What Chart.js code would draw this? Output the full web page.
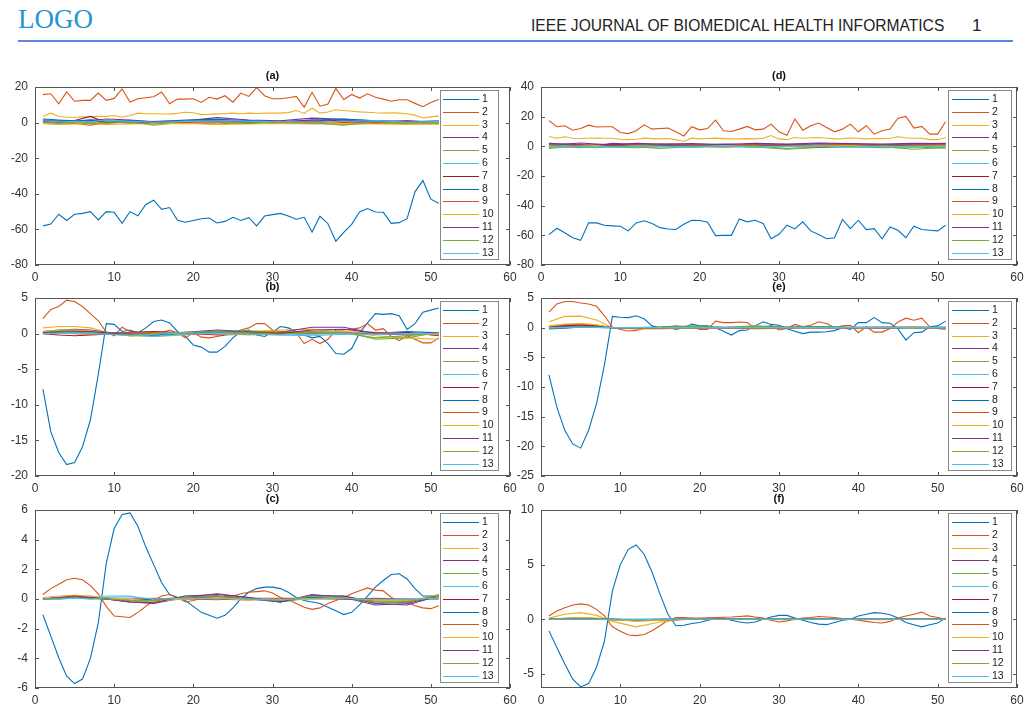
<!DOCTYPE html>
<html>
<head>
<meta charset="utf-8">
<script src="https://cdn.jsdelivr.net/npm/chart.js@4.4.1/dist/chart.umd.min.js"></script>
<style>
  body { margin:0; background:#fff; width:1030px; height:707px; position:relative; overflow:hidden; font-family:"Liberation Sans", Arial, sans-serif; }
  #logo { position:absolute; left:18px; top:6px; line-height:1; font-family:"Liberation Serif","Times New Roman",serif; font-size:27px; color:#2196d3; }
  #journal { position:absolute; left:531px; top:18px; line-height:1; font-size:15.6px; color:#222; white-space:nowrap; }
  #pageno { position:absolute; left:972px; top:17px; line-height:1; font-size:17px; color:#222; }
  #rule { position:absolute; left:18px; top:40px; width:995px; height:2px; background:#5b87d8; }
  canvas { position:absolute; }
</style>
</head>
<body>
<div id="logo">LOGO</div>
<div id="journal">IEEE JOURNAL OF BIOMEDICAL HEALTH INFORMATICS</div>
<div id="pageno">1</div>
<div id="rule"></div>
<canvas id="pa"></canvas>
<canvas id="pb"></canvas>
<canvas id="pc"></canvas>
<canvas id="pd"></canvas>
<canvas id="pe"></canvas>
<canvas id="pf"></canvas>
<script>
// sample index (x axis)
var xAll = [1,2,3,4,5,6,7,8,9,10,11,12,13,14,15,16,17,18,19,20,21,22,23,24,25,26,27,28,29,30,
            31,32,33,34,35,36,37,38,39,40,41,42,43,44,45,46,47,48,49,50,51];
// the small series near zero are read at fewer samples
var xSub = [1,3,5,7,9,12,15,19,23,27,31,35,39,43,47,51];
var xTicks = [0,10,20,30,40,50,60];
var seriesNames = ['1','2','3','4','5','6','7','8','9','10','11','12','13'];
var colors = ['#0072BD','#D95319','#EDB120','#7E2F8E','#77AC30','#4DBEEE','#A2142F',
              '#0072BD','#D95319','#EDB120','#7E2F8E','#77AC30','#4DBEEE'];

// ---- (a)
var aS1 = [-58,-57,-51.5,-55,-51.5,-51,-50,-54.7,-50,-50.4,-56.6,-50,-52.3,-46,-43.6,-48.7,-47.7,-54.9,-56,-55,
           -54,-53.6,-56.4,-55.5,-53.2,-55,-53.4,-58,-52.5,-51.7,-51,-52.5,-54.3,-53.2,-61.5,-52.6,-56.8,-66.6,-61.7,-57.2,
           -50.2,-48.3,-50.2,-50.4,-56.6,-56.2,-54,-38.9,-32.5,-43,-45.3];
var aS2 = [15.7,16.2,10.6,17.2,12,12.5,12.5,16.6,12.5,13.6,18.9,11.5,13.4,14,14.5,17.2,10.6,13.2,13.2,13.4,
           11.3,14.2,13.2,15.1,11.5,16.6,14.7,19.6,15.1,13.4,13.4,14,14.7,8.7,17,9.2,10.4,19.2,13,15.8,
           13.8,16.2,14.2,13.2,12,12.8,12.8,10.8,8.9,11.3,13];
var aS3 = [3.6,5.3,3.4,3.0,3.0,3.2,3.3,3.6,3.5,4.0,3.0,4.0,5.3,5.0,5.0,4.8,4.9,5.2,5.8,5.5,
           4.5,4.6,4.9,5.0,5.3,5.0,5.3,5.1,5.3,5.4,5.3,5.6,6.8,5.3,8.1,5.3,6.0,7.2,6.8,6.4,
           6.0,5.8,5.5,5.3,5.5,5.3,5.0,4.2,2.6,3.2,3.8];
var aRest = [
  [1.5,1.2,0.8,1.0,2.0,1.5,0.5,1.0,2.8,1.5,1.0,2.5,1.8,1.0,0.8,0.5],
  [-0.5,-0.8,-0.3,0.2,-0.5,0.5,-1.5,0.3,0.8,0.2,-0.3,0.5,-1.2,0.0,-0.6,-0.8],
  [0.5,1.0,0.2,1.8,0.6,0.3,0.8,1.2,0.5,0.6,0.2,0.3,0.9,0.4,0.2,0.5],
  [1.0,0.5,1.2,3.5,0.0,0.5,-0.2,0.5,0.3,-0.5,0.8,0.5,1.5,0.2,1.0,0.0],
  [2.0,1.5,1.0,1.5,1.0,1.2,0.5,1.5,1.8,1.2,0.5,1.5,2.0,1.0,0.5,1.0],
  [0.0,0.5,-0.5,-1.5,0.0,0.2,-0.5,0.0,-0.8,0.2,-0.3,-0.5,0.0,-0.5,0.2,-0.3],
  [-0.5,-1.0,-0.8,-0.5,-1.0,-0.8,-0.6,-0.5,-1.0,-0.8,-0.5,-0.8,-0.6,-0.8,-1.0,-0.8],
  [0.8,0.2,0.5,1.0,0.3,-0.2,0.6,0.8,1.2,0.5,0.3,1.5,0.5,0.2,0.8,0.5],
  [0.2,-0.5,0.5,-0.8,0.5,0.0,-0.8,0.8,0.2,-0.3,0.3,0.0,-1.5,0.5,-0.2,0.0],
  [1.0,0.3,0.8,0.5,1.5,0.8,0.2,0.6,1.0,0.8,0.5,0.3,0.8,1.0,0.3,0.6]
];
var aYTicks = [-80,-60,-40,-20,0,20];

// ---- (b)
var bS1 = [-7.8,-13.8,-16.7,-18.4,-18.1,-15.9,-12.1,-5.7,1.4,1.3,0.3,0.5,0.1,0.8,1.7,1.9,1.5,0.3,-0.4,-1.6,
           -1.9,-2.6,-2.6,-1.8,-0.6,0.3,0.5,-0.2,-0.4,0.2,1.0,0.8,0.3,-0.2,-0.6,-0.4,-1.4,-2.8,-2.9,-2.1,
           0.1,1.5,2.8,2.7,2.8,2.5,0.6,1.4,3.0,3.3,3.6];
var bS2 = [2.1,3.4,3.8,4.7,4.5,3.8,2.8,1.8,0.2,-0.3,0.9,0.3,0.2,0,-0.2,0.1,0.5,0.1,-0.6,0.1,
           -0.5,-0.6,-0.4,-0.2,0.1,0.5,0.8,1.4,1.4,0.5,0.3,0.3,0.1,-1.4,-0.8,-1.4,-0.8,0.5,0.5,0.6,
           0.8,1.4,0.5,0.7,-0.4,-1.0,-0.3,-0.8,-1.3,-1.3,-0.6];
var bS3 = [0.8,1.0,1.0,0.8,0.2,-0.3,-0.4,-0.2,0.2,0.3,0.5,0.6,0.2,-0.3,-0.6,-0.8];
var bRest = [
  [0.3,0.5,0.6,0.5,0.2,-0.3,-0.2,0.2,0.5,0.3,0.2,0.9,0.9,0.0,-0.2,0.0],
  [0.2,0.4,0.5,0.4,0.0,-0.2,-0.3,0.0,0.3,0.4,0.2,0.3,0.3,-0.8,-0.6,0.2],
  [0.0,0.1,0.1,0.1,0.0,-0.2,-0.4,-0.1,0.1,0.0,-0.2,-0.3,-0.1,0.0,0.0,0.0],
  [0.0,-0.2,-0.3,-0.2,-0.1,0.2,0.3,0.1,-0.2,-0.1,0.1,0.2,0.0,0.1,0.2,-0.3],
  [0.2,0.3,0.4,0.3,0.2,0.0,-0.2,0.1,0.3,0.2,0.0,0.1,0.2,0.0,0.3,0.1],
  [0.1,0.2,0.0,-0.1,0.0,0.1,0.2,0.0,-0.1,0.1,0.2,0.0,0.1,0.2,0.0,-0.2],
  [0.3,0.5,0.5,0.4,0.1,-0.1,0.0,0.2,0.0,-0.2,-0.1,0.2,0.3,0.1,0.0,-0.1],
  [0.1,0.2,0.3,0.3,0.1,-0.1,0.0,0.1,0.3,0.2,0.0,0.5,0.6,0.1,0.0,0.1],
  [0.0,0.1,0.2,0.1,-0.1,-0.2,0.0,0.2,0.3,0.1,-0.1,0.2,0.1,-0.6,-0.3,0.1],
  [0.0,0.0,0.1,0.0,-0.1,-0.3,-0.1,0.1,0.0,-0.1,-0.2,-0.1,0.0,-0.1,0.0,0.0]
];
var bYTicks = [-20,-15,-10,-5,0,5];

// ---- (c)
var cS1 = [-1.06,-2.5,-3.96,-5.2,-5.7,-5.4,-4.0,-1.6,2.4,4.75,5.7,5.8,4.9,3.5,2.3,1.1,0.3,0.1,-0.1,-0.5,
           -0.9,-1.1,-1.3,-1.1,-0.6,0,0.45,0.7,0.8,0.8,0.7,0.45,0.1,-0.1,-0.2,-0.3,-0.55,-0.8,-1.05,-0.9,
           -0.4,0.2,0.8,1.25,1.65,1.7,1.35,0.7,0.2,0.2,0.1];
var cS2 = [0.3,0.7,1.0,1.3,1.4,1.3,0.9,0.35,-0.5,-1.15,-1.2,-1.25,-0.9,-0.5,-0.1,0.2,0.3,0.1,-0.2,-0.1,
           0.05,0.15,0.1,0.1,0.2,0.35,0.45,0.5,0.55,0.4,0.1,-0.05,-0.3,-0.55,-0.7,-0.6,-0.3,-0.1,0.1,0.35,
           0.55,0.75,0.6,0.55,0.1,-0.1,-0.2,-0.45,-0.6,-0.65,-0.45];
var cS3 = [0.1,0.2,0.25,0.2,0.0,-0.2,-0.1,0.1,0.0,-0.1,0.05,0.1,0.0,-0.1,0.0,0.1];
var cRest = [
  [0.0,0.1,0.15,0.1,0.0,-0.2,-0.3,0.1,0.35,0.1,-0.2,0.3,0.1,-0.4,-0.3,0.2],
  [0.0,0.05,0.1,0.05,0.0,-0.1,-0.2,0.2,0.2,0.0,-0.1,0.2,0.1,-0.3,-0.2,0.3],
  [0.0,0.0,0.05,0.05,0.2,0.2,-0.1,0.0,0.1,0.0,-0.1,0.05,0.0,-0.05,0.0,0.0],
  [0.0,0.05,0.1,0.1,0.0,-0.1,-0.1,0.1,0.2,0.0,-0.1,0.1,0.0,-0.1,-0.1,0.1],
  [0.0,0.1,0.1,0.1,0.0,-0.1,0.0,0.1,0.1,0.0,-0.2,0.1,0.2,-0.2,-0.2,0.2],
  [0.0,0.05,0.1,0.05,0.0,0.0,0.05,0.0,-0.05,0.05,0.05,0.0,0.0,0.05,0.0,0.0],
  [0.0,0.1,0.2,0.2,0.1,-0.1,-0.15,0.0,0.1,0.0,-0.1,0.0,0.1,-0.1,-0.1,0.1],
  [0.0,0.1,0.2,0.1,0.0,-0.2,-0.25,0.2,0.3,0.1,-0.2,0.25,0.2,-0.3,-0.4,0.2],
  [0.0,0.0,0.1,0.0,0.0,-0.1,-0.1,0.1,0.2,0.0,-0.1,0.2,0.1,-0.2,-0.2,0.2],
  [0.0,0.0,0.05,0.0,0.1,0.15,0.0,0.05,0.05,0.0,-0.05,0.05,0.05,-0.05,0.0,0.05]
];
var cYTicks = [-6,-4,-2,0,2,4,6];

// ---- (d)
var dS1 = [-59.5,-55.2,-58.2,-61.6,-63.4,-51.6,-51.6,-53.2,-53.6,-53.9,-57,-51.6,-50.2,-52,-54.8,-55.7,-56.1,-52.5,-49.8,-50,
           -51.1,-60.2,-60,-60,-48.9,-50.9,-49.8,-52,-62.3,-59.3,-53.2,-55.7,-50.9,-57,-59.5,-62.3,-61.6,-49.3,-55.5,-49.8,
           -56.1,-55.5,-62.3,-54.3,-56.6,-61.6,-53.9,-56.1,-56.6,-57,-53.2];
var dS2 = [17.3,13.2,13.9,10.9,12,14.3,13,13.2,13.2,9.3,8.6,10.5,14.5,11.6,12,12.3,9.8,7,13.2,11.1,
           12,17.7,10.5,10,11.6,13.4,11.1,11.6,15,9.8,7.5,18.4,10.9,13.9,15.7,12.7,9.8,11.6,15,9.8,
           13.9,8.2,10.5,11.6,18.9,20.2,12.3,13.4,8.2,8.2,16.6];
var dS3 = [6.6,5.5,6.5,5.5,5.3,5.5,5.6,5.5,5.4,4.8,4.5,4.8,5.5,5.2,5.0,5.3,4.5,3.3,5.5,5.0,
           5.3,5.5,5.2,5.0,5.0,5.2,5.0,5.4,7.3,5.0,4.5,6.0,5.5,5.8,6.0,5.5,5.0,5.2,5.6,5.5,
           5.0,5.3,5.2,5.4,6.5,5.8,5.5,5.5,4.5,4.5,6.0];
var dRest = [
  [1.0,1.5,1.0,0.5,2.0,1.2,0.8,0.5,1.5,1.0,0.5,1.8,1.2,1.0,1.5,2.0],
  [-1.5,-0.5,-1.0,0.0,-0.5,-1.0,-0.5,0.0,-0.3,-0.5,-2.0,-0.8,-0.5,-0.2,-2.0,-0.8],
  [0.5,0.0,0.3,-0.5,0.2,0.5,0.0,0.5,-0.3,0.3,0.5,0.0,0.4,-0.2,0.3,0.5],
  [0.0,0.5,-0.5,0.3,0.8,0.0,0.5,-0.3,0.2,0.6,0.0,-0.5,0.3,0.5,-0.2,0.5],
  [0.8,0.3,1.0,0.5,1.2,0.5,0.8,1.0,0.3,0.8,1.2,0.5,0.8,0.3,1.0,0.8],
  [1.5,1.0,0.5,1.2,0.8,1.0,1.5,0.8,1.0,1.2,0.5,1.0,1.5,0.8,1.2,1.0],
  [0.3,-0.3,0.0,0.5,-0.5,0.2,0.0,-0.5,0.3,0.0,-0.3,0.2,0.5,-0.3,0.0,0.3],
  [2.0,1.5,2.2,1.5,1.0,2.0,1.5,1.8,1.2,2.0,1.5,2.2,1.8,1.5,2.0,1.8],
  [-0.8,0.0,-0.5,-1.0,0.0,-0.3,-1.5,0.0,-0.5,0.3,-1.5,-0.5,0.0,-1.0,-0.5,-1.2],
  [-0.3,0.5,-0.5,0.0,-0.8,0.3,0.0,-0.5,0.5,-0.8,0.0,0.3,-0.5,0.2,-0.3,0.0]
];
var dYTicks = [-80,-60,-40,-20,0,20,40];

// ---- (e)
var eS1 = [-7.95,-13.4,-17.3,-19.6,-20.3,-17.3,-12.8,-6.25,1.9,1.75,1.7,2.0,1.5,0.3,0,0.2,-0.3,0,0.6,0.3,
           0.3,0,-0.6,-1.25,-0.5,-0.4,0.3,1.0,0.55,0.4,-0.2,-0.6,-1.0,-0.75,-0.75,-0.7,-0.5,0,-0.3,0.85,
           0.85,1.7,0.85,0.75,-0.2,-2.1,-0.85,-0.75,0.15,0.3,1.1];
var eS2 = [2.6,4.0,4.4,4.4,4.15,4.0,3.6,2.0,0.1,-0.3,-0.55,-0.45,-0.15,-0.15,0,0.15,0.3,0.15,0.15,-0.3,
           -0.3,1.1,0.85,0.85,0.95,0.85,-0.15,-0.15,0.4,-0.4,-0.15,0.55,0.15,0.4,1.0,0.7,0,0.3,0.4,-0.85,
           0.15,-0.75,-0.75,-0.15,0.95,1.6,1.25,1.6,0.15,-0.15,-0.3];
var eS3 = [1.0,1.9,1.95,1.3,0.0,-0.2,-0.2,-0.1,-0.1,-0.2,-0.1,0.0,-0.1,-0.1,0.2,-0.2];
var eRest = [
  [0.2,0.4,0.55,0.35,0.0,-0.1,0.0,0.1,0.0,0.1,0.0,0.1,0.0,0.1,0.0,0.0],
  [0.0,0.1,0.2,0.1,0.0,0.0,0.05,0.3,0.0,0.3,0.1,0.2,0.0,0.0,0.05,0.0],
  [0.0,0.0,0.05,0.05,0.0,0.0,0.0,0.0,0.0,0.0,0.0,0.0,0.0,0.0,0.0,0.0],
  [0.1,0.3,0.45,0.3,0.0,0.0,0.05,0.0,0.05,0.0,0.05,0.0,0.05,0.0,0.05,0.0],
  [-0.2,-0.1,0.1,0.05,0.0,0.0,0.0,0.1,0.0,0.0,0.0,0.1,0.0,0.0,0.0,0.1],
  [0.2,0.5,0.6,0.4,0.0,-0.1,0.0,0.0,0.0,0.0,0.0,0.0,0.0,0.0,0.0,0.0],
  [0.3,0.6,0.7,0.5,0.0,-0.1,0.0,0.0,0.05,0.0,0.0,0.0,0.05,0.0,0.1,0.0],
  [0.0,0.2,0.3,0.2,0.0,-0.05,0.0,0.0,0.0,0.0,0.0,0.0,0.0,0.0,0.0,0.0],
  [-0.1,0.0,0.1,0.05,0.0,0.0,0.05,0.2,0.0,0.1,0.0,0.1,0.0,0.05,0.0,0.0],
  [0.0,0.05,0.1,0.05,0.0,0.0,0.0,0.0,0.0,0.0,0.0,0.0,0.0,0.0,0.0,0.0]
];
var eYTicks = [-25,-20,-15,-10,-5,0,5];

// ---- (f)
var fS1 = [-1.07,-2.6,-4.1,-5.5,-6.2,-5.9,-4.4,-2.0,2.6,5.0,6.4,6.8,5.95,4.3,2.3,0.45,-0.6,-0.55,-0.4,-0.3,
           -0.1,0.05,0.1,-0.1,-0.25,-0.35,-0.25,0,0.2,0.35,0.35,0.1,-0.1,-0.3,-0.45,-0.5,-0.3,-0.1,0,0.3,
           0.45,0.6,0.55,0.4,0.1,-0.3,-0.5,-0.7,-0.5,-0.35,0.1];
var fS2 = [0.3,0.75,1.05,1.3,1.4,1.3,0.9,0.3,-0.7,-1.1,-1.45,-1.5,-1.4,-1.05,-0.6,-0.1,0.15,0.15,0.1,0.1,
           0.12,0.15,0.18,0.2,0.25,0.3,0.2,0.1,-0.1,-0.25,-0.15,0.0,0.1,0.15,0.25,0.2,0.15,0.05,0.0,-0.1,
           -0.2,-0.3,-0.35,-0.2,0.1,0.3,0.45,0.65,0.3,0.15,0.0];
var fS3 = [0.1,0.45,0.6,0.35,-0.2,-0.7,-0.25,0.05,0,0,-0.05,0,0,-0.05,0,0];
var fRest = [
  [0,0.05,0.1,0.05,-0.05,-0.1,-0.05,0,0,0,0,0,0,0,0,0],
  [0,0.02,0.05,0.03,0,-0.05,-0.02,0,0.02,0,0,0.02,0,0,0.02,0],
  [0,0,0,0,0,0,0,0,0,0,0,0,0,0,0,0],
  [0,0.03,0.06,0.03,0,-0.05,-0.03,0,0,0,0,0,0,0,0,0],
  [0,0.05,0.1,0.05,-0.05,-0.15,-0.08,0,0.02,0,0,0.02,0,-0.02,0,0],
  [0,0.05,0.08,0.05,0,-0.08,-0.05,0.02,0,0,0,0,0,0,0.02,0],
  [0,0.1,0.15,0.1,-0.05,-0.15,-0.1,0.02,0,0,0,0,0,0,0,0],
  [0,0.02,0.05,0.02,0,-0.05,-0.02,0,0,0,0,0,0,0,0,0],
  [0,0.02,0.04,0.02,0,-0.04,-0.02,0.02,0,0.02,0,0,0,0,0,0],
  [0,0,0,0,0,0,0,0,0,0,0,0,0,0,0,0]
];
var fYTicks = [-5,0,5,10];

function pts(xs, ys) {
  return ys.map(function (v, i) { return { x: xs[i], y: v }; });
}

// MATLAB-like box, inner ticks, title and legend inside the axes
var matlabAxes = {
  id: 'matlabAxes',
  afterDraw: function (chart) {
    var o = chart.options.plugins.matlabAxes;
    var ctx = chart.ctx, a = chart.chartArea;
    var L = Math.round(a.left), R = Math.round(a.right), T = Math.round(a.top), B = Math.round(a.bottom);
    ctx.save();
    ctx.strokeStyle = '#555';
    ctx.lineWidth = 1;
    ctx.strokeRect(L + 0.5, T + 0.5, R - L - 1, B - T - 1);
    ctx.beginPath();
    chart.scales.x.ticks.forEach(function (t) {
      var px = Math.round(chart.scales.x.getPixelForValue(t.value)) + 0.5;
      ctx.moveTo(px, B); ctx.lineTo(px, B - 4);
      ctx.moveTo(px, T); ctx.lineTo(px, T + 4);
    });
    chart.scales.y.ticks.forEach(function (t) {
      var py = Math.round(chart.scales.y.getPixelForValue(t.value)) + 0.5;
      ctx.moveTo(L, py); ctx.lineTo(L + 4, py);
      ctx.moveTo(R, py); ctx.lineTo(R - 4, py);
    });
    ctx.stroke();

    // title
    ctx.fillStyle = '#111';
    ctx.font = 'bold 11px "Liberation Sans", Arial, sans-serif';
    ctx.textAlign = 'center';
    ctx.textBaseline = 'middle';
    ctx.fillText(o.title, (L + R) / 2, T - 11);

    // legend box
    var bx = R - o.legLeft, bw = o.legLeft - o.legRight;
    ctx.fillStyle = '#fff';
    ctx.fillRect(bx, T + 3, bw, B - T - 9);
    ctx.strokeStyle = '#888';
    ctx.strokeRect(bx + 0.5, T + 3.5, bw, B - T - 9);
    ctx.font = '10.5px "Liberation Sans", Arial, sans-serif';
    ctx.textAlign = 'left';
    chart.data.datasets.forEach(function (ds, i) {
      var y = Math.round(T + 12 + i * 12.8) + 0.5;
      ctx.strokeStyle = ds.borderColor;
      ctx.lineWidth = 1;
      ctx.beginPath();
      ctx.moveTo(bx + o.lineFrom, y); ctx.lineTo(bx + o.lineTo, y);
      ctx.stroke();
      ctx.fillStyle = '#222';
      ctx.fillText(ds.label, bx + o.lineTo + 3, y);
    });
    ctx.restore();
  }
};

function makePanel(id, box, title, s1, s2, s3, s3x, rest, yMin, yMax, yTicks, leg) {
  var cv = document.getElementById(id);
  var padL = 35, padT = 25, padR = 12, padB = 22;
  cv.width = box[1] - box[0] + padL + padR;
  cv.height = box[3] - box[2] + padT + padB;
  cv.style.left = (box[0] - padL) + 'px';
  cv.style.top = (box[2] - padT) + 'px';

  var all = [pts(xAll, s1), pts(xAll, s2), pts(s3x, s3)];
  rest.forEach(function (r) { all.push(pts(xSub, r)); });
  var datasets = all.map(function (d, i) {
    return {
      label: seriesNames[i],
      data: d,
      borderColor: colors[i],
      backgroundColor: colors[i],
      borderWidth: 1.1,
      pointRadius: 0,
      tension: 0,
      fill: false,
      order: 13 - i
    };
  });

  var tickFont = { family: '"Liberation Sans", Arial, sans-serif', size: 12 };
  new Chart(cv, {
    type: 'line',
    data: { datasets: datasets },
    options: {
      responsive: false,
      animation: false,
      devicePixelRatio: 1,
      events: [],
      layout: { padding: { top: padT, right: padR, left: 0, bottom: 0 } },
      plugins: {
        legend: { display: false },
        tooltip: { enabled: false },
        matlabAxes: { title: title, legLeft: leg[0], legRight: leg[1], lineFrom: leg[2], lineTo: leg[3] }
      },
      scales: {
        x: {
          type: 'linear', min: 0, max: 60,
          grid: { display: false, drawTicks: false },
          border: { display: false },
          afterBuildTicks: function (s) { s.ticks = xTicks.map(function (v) { return { value: v }; }); },
          afterFit: function (s) { s.height = padB; },
          ticks: { font: tickFont, color: '#333', padding: 5, maxRotation: 0 }
        },
        y: {
          type: 'linear', min: yMin, max: yMax,
          grid: { display: false, drawTicks: false },
          border: { display: false },
          afterBuildTicks: function (s) { s.ticks = yTicks.map(function (v) { return { value: v }; }); },
          afterFit: function (s) { s.width = padL; },
          ticks: { font: tickFont, color: '#333', padding: 7 }
        }
      }
    },
    plugins: [matlabAxes]
  });
}

var legLeftCol = [70, 12, 3, 39];
var legRightCol = [69, 6, 4, 41];
makePanel('pa', [35, 510, 87, 265], '(a)', aS1, aS2, aS3, xAll, aRest, -80, 20, aYTicks, legLeftCol);
makePanel('pb', [35, 510, 298, 476], '(b)', bS1, bS2, bS3, xSub, bRest, -20, 5, bYTicks, legLeftCol);
makePanel('pc', [35, 510, 510, 688], '(c)', cS1, cS2, cS3, xSub, cRest, -6, 6, cYTicks, legLeftCol);
makePanel('pd', [541, 1017, 87, 265], '(d)', dS1, dS2, dS3, xAll, dRest, -80, 40, dYTicks, legRightCol);
makePanel('pe', [541, 1017, 298, 476], '(e)', eS1, eS2, eS3, xSub, eRest, -25, 5, eYTicks, legRightCol);
makePanel('pf', [541, 1017, 510, 688], '(f)', fS1, fS2, fS3, xSub, fRest, -6.3, 10, fYTicks, legRightCol);
</script>
</body>
</html>
